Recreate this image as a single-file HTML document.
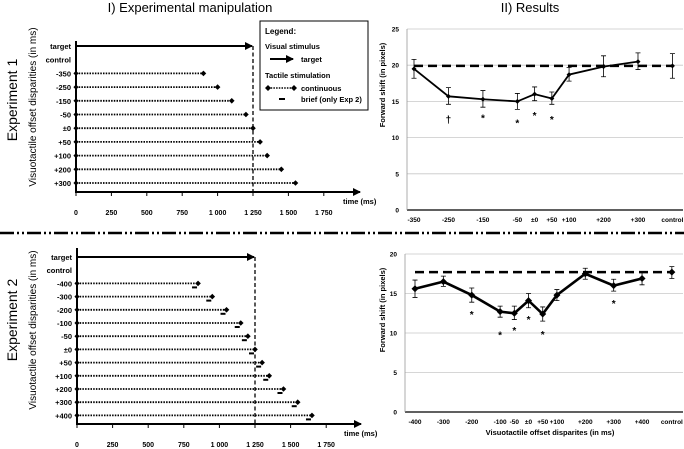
<!DOCTYPE html>
<html><head><meta charset="utf-8">
<style>
html,body{margin:0;padding:0;background:#fff;}
svg{display:block;font-family:"Liberation Sans",sans-serif;}
.b{font-weight:bold;}
</style></head>
<body>
<svg id="fig" width="684" height="449" viewBox="0 0 684 449" xmlns="http://www.w3.org/2000/svg">
<defs>
<marker id="arr" markerWidth="8" markerHeight="8" refX="7" refY="4" orient="auto" markerUnits="userSpaceOnUse"><path d="M0,0 L8,4 L0,8 z" fill="#000"/></marker>
</defs>
<text x="190" y="12" font-size="13" text-anchor="middle">I) Experimental manipulation</text>
<text x="530" y="12" font-size="13" text-anchor="middle">II) Results</text>
<line x1="0" y1="233" x2="684" y2="233" stroke="#000" stroke-width="2.5" stroke-dasharray="14,3,2,3,2,3"/>
<text transform="translate(17,100) rotate(-90)" font-size="14" text-anchor="middle">Experiment 1</text>
<text transform="translate(17,320) rotate(-90)" font-size="14" text-anchor="middle">Experiment 2</text>
<g>
<rect x="260" y="21" width="108" height="89" fill="#fff" stroke="#000" stroke-width="1"/>
<text x="265" y="34" font-size="8" font-weight="bold">Legend:</text>
<text x="265" y="49" font-size="7.5" class="b">Visual stimulus</text>
<line x1="270" y1="59" x2="293" y2="59" stroke="#000" stroke-width="2" marker-end="url(#arr)"/>
<text x="301" y="62" font-size="7.5" class="b">target</text>
<text x="265" y="78" font-size="7.5" class="b">Tactile stimulation</text>
<line x1="268" y1="88" x2="293" y2="88" stroke="#000" stroke-width="1.6" stroke-dasharray="1.5,1.2"/>
<path d="M268,85 l3,3 l-3,3 l-3,-3z M294,85 l3,3 l-3,3 l-3,-3z" fill="#000"/>
<text x="301" y="91" font-size="7.5" class="b">continuous</text>
<rect x="279" y="98" width="6" height="2" fill="#000"/>
<text x="301" y="102" font-size="7.5" class="b">brief (only Exp 2)</text>
</g>
<g id="left1"></g><g id="left2"></g><g id="right1"></g><g id="right2"></g>
</svg>
<script>
// Experiment 1 manipulation
const exp1Labels = ["-350","-250","-150","-50","±0","+50","+100","+200","+300"];
const exp1Ends = [900,1000,1100,1200,1250,1300,1350,1450,1550];
// Experiment 2 manipulation
const exp2Labels = ["-400","-300","-200","-100","-50","±0","+50","+100","+200","+300","+400"];
const exp2Ends = [850,950,1050,1150,1200,1250,1300,1350,1450,1550,1650];
const timeTicks = [0,250,500,750,1000,1250,1500,1750];
const timeTickLabels = ["0","250","500","750","1 000","1 250","1 500","1 750"];
// Results exp 1
const r1Cats = ["-350","-250","-150","-50","±0","+50","+100","+200","+300","control"];
const r1Pos = [-350,-250,-150,-50,0,50,100,200,300,400];
const r1Vals = [19.5,15.7,15.3,15.0,16.0,15.4,18.7,19.8,20.5,19.9];
const r1Lo = [18.2,14.6,14.2,13.9,15.1,14.6,17.8,18.4,19.4,18.2];
const r1Hi = [20.8,16.9,16.5,16.1,17.0,16.3,19.7,21.3,21.7,21.6];
const r1Ref = 19.9;
const r1Sig = [["†",-250,12.6],["*",-150,12.8],["*",-50,12.1],["*",0,13.1],["*",50,12.6]];
const r1YTicks = [0,5,10,15,20,25];
// Results exp 2
const r2Cats = ["-400","-300","-200","-100","-50","±0","+50","+100","+200","+300","+400","control"];
const r2Pos = [-400,-300,-200,-100,-50,0,50,100,200,300,400,505];
const r2Vals = [15.6,16.5,14.8,12.7,12.5,14.1,12.4,14.8,17.5,16.0,16.9,17.7];
const r2Lo = [14.5,15.9,13.9,12.0,11.7,13.2,11.5,14.1,16.8,15.3,16.1,16.9];
const r2Hi = [16.7,17.2,15.7,13.4,13.4,15.0,13.3,15.5,18.2,16.8,17.7,18.4];
const r2Ref = 17.7;
const r2Sig = [["*",-200,12.4],["*",-100,9.8],["*",-50,10.4],["*",0,11.8],["*",50,9.9],["*",300,13.8]];
const r2YTicks = [0,5,10,15,20];

const NS="http://www.w3.org/2000/svg";
function mk(parent,tag,attrs,text){const e=document.createElementNS(NS,tag);for(const k in attrs)e.setAttribute(k,attrs[k]);if(text!==undefined)e.textContent=text;parent.appendChild(e);return e;}
function diamond(g,x,y,r){return mk(g,"path",{d:`M${x},${y-r} L${x+r},${y} L${x},${y+r} L${x-r},${y} Z`,fill:"#000"});}

function manip(gid,o,labels,ends,brief){
  const g=document.getElementById(gid);
  const tx=t=>o.x0+t*o.k;
  const yAxisTitle=mk(g,"text",{transform:`translate(${o.ylx},${o.ylc}) rotate(-90)`,"font-size":"10","text-anchor":"middle"},"Visuotactile offset disparities (in ms)");
  
  
  mk(g,"line",{x1:o.x0,y1:o.yTop,x2:o.x0,y2:o.yAxis+1,stroke:"#000","stroke-width":2});
  const xa=mk(g,"line",{x1:o.x0,y1:o.yAxis,x2:o.xEnd,y2:o.yAxis,stroke:"#000","stroke-width":2,"marker-end":"url(#arr)"});
  
  
  mk(g,"text",{x:o.xEnd-17,y:o.yAxis+12,"font-size":"7.5","class":"b"},"time (ms)");
  timeTicks.forEach((t,i)=>{
    mk(g,"line",{x1:tx(t),y1:o.yAxis,x2:tx(t),y2:o.yAxis+4,stroke:"#000","stroke-width":1});
    const tl=mk(g,"text",{x:tx(t),y:o.yAxis+23,"font-size":"7","text-anchor":"middle","class":"b"},timeTickLabels[i]);
    
    
  });
  mk(g,"line",{x1:tx(1250),y1:o.yT,x2:tx(1250),y2:o.yAxis,stroke:"#000","stroke-width":1.3,"stroke-dasharray":"4,2.5"});
  mk(g,"text",{x:o.x0-5,y:o.yT+3,"font-size":"7.5","text-anchor":"end","class":"b"},"target");
  const ta=mk(g,"line",{x1:o.x0,y1:o.yT,x2:tx(1250)-1,y2:o.yT,stroke:"#000","stroke-width":2,"marker-end":"url(#arr)"});
  
  
  mk(g,"text",{x:o.x0-5,y:o.yT+o.dy+3,"font-size":"7.5","text-anchor":"end","class":"b"},"control");
  labels.forEach((l,i)=>{
    const y=o.yT+o.dy*(i+2);
    const lt=mk(g,"text",{x:o.x0-5,y:y+3,"font-size":"7.5","text-anchor":"end","class":"b"},l);
    
    
    const ln=mk(g,"line",{x1:o.x0,y1:y,x2:tx(ends[i]),y2:y,stroke:"#000","stroke-width":1.8,"stroke-dasharray":"1.5,1.2"});
    
    
    diamond(g,o.x0,y,2.6);
    diamond(g,tx(ends[i]),y,2.8);
    if(brief){const b=mk(g,"rect",{x:tx(ends[i])-6,y:y+3,width:5,height:2,fill:"#000"});
      
      }
  });
}
manip("left1",{x0:76,k:0.1416,yAxis:192,yTop:41,xEnd:360,yT:46,dy:13.7,ylx:36,ylc:107},exp1Labels,exp1Ends,false);
manip("left2",{x0:77,k:0.1424,yAxis:424,yTop:248,xEnd:361,yT:257,dy:13.2,ylx:36,ylc:330},exp2Labels,exp2Ends,true);

function results(gid,o,cats,pos,vals,lo,hi,ref,sig,ticks){
  const g=document.getElementById(gid);
  const xs=p=>o.xa+(p-o.p0)*o.k;
  const ys=v=>o.y0-v*o.ky;
  const yt=mk(g,"text",{transform:`translate(${o.ylx},${o.ylc}) rotate(-90)`,"font-size":"7.5","text-anchor":"middle","class":"b"},"Forward shift (in pixels)");
  
  
  ticks.forEach(t=>{
    const gl=mk(g,"line",{x1:o.xL,y1:ys(t),x2:683,y2:ys(t),stroke:t===0?"#000":"#c8c8c8","stroke-width":t===0?1.3:0.8});
    
    
    const tl=mk(g,"text",{x:o.xL-8,y:ys(t)+2.5,"font-size":"6.5","text-anchor":"end","class":"b"},String(t));
    
    
  });
  mk(g,"line",{x1:o.xL,y1:ys(ticks[ticks.length-1]),x2:o.xL,y2:o.y0,stroke:"#999","stroke-width":0.8});
  cats.forEach((c,i)=>{
    const t=mk(g,"text",{x:xs(pos[i]),y:o.y0+12,"font-size":"6.5","text-anchor":"middle","class":"b"},c);
    
    
  });
  const rl=mk(g,"line",{x1:xs(pos[0]),y1:ys(ref),x2:xs(pos[pos.length-1]),y2:ys(ref),stroke:"#000","stroke-width":2.5,"stroke-dasharray":"9,5"});
  
  
  const n=vals.length-1;
  const pts=vals.slice(0,n).map((v,i)=>`${xs(pos[i])},${ys(v)}`).join(" ");
  const pl=mk(g,"polyline",{points:pts,fill:"none",stroke:"#000","stroke-width":o.lw});
  
  
  vals.forEach((v,i)=>{
    const x=xs(pos[i]);
    const eb=mk(g,"path",{d:`M${x},${ys(lo[i])} V${ys(hi[i])} M${x-2.5},${ys(lo[i])} h5 M${x-2.5},${ys(hi[i])} h5`,stroke:"#000","stroke-width":0.8,fill:"none"});
    
    
    const d=diamond(g,x,ys(v),o.mr);
    
    
  });
  sig.forEach(s=>{
    const t=mk(g,"text",{x:xs(s[1]),y:ys(s[2])+4,"font-size":"10","text-anchor":"middle","font-weight":"bold"},s[0]);
    
    
  });
  if(o.xt){const t=mk(g,"text",{x:550,y:o.y0+23,"font-size":"7.5","text-anchor":"middle","class":"b"},o.xt);
    
    }
}
results("right1",{xa:414,p0:-350,k:0.3446,xL:407,y0:210,ky:7.24,ylx:385,ylc:85,lw:1.8,mr:2.5},r1Cats,r1Pos,r1Vals,r1Lo,r1Hi,r1Ref,r1Sig,r1YTicks);
results("right2",{xa:415,p0:-400,k:0.2838,xL:405,y0:412,ky:7.9,ylx:385,ylc:310,lw:2.6,mr:3.5,xt:"Visuotactile offset disparites (in ms)"},r2Cats,r2Pos,r2Vals,r2Lo,r2Hi,r2Ref,r2Sig,r2YTicks);
</script>
</body></html>
